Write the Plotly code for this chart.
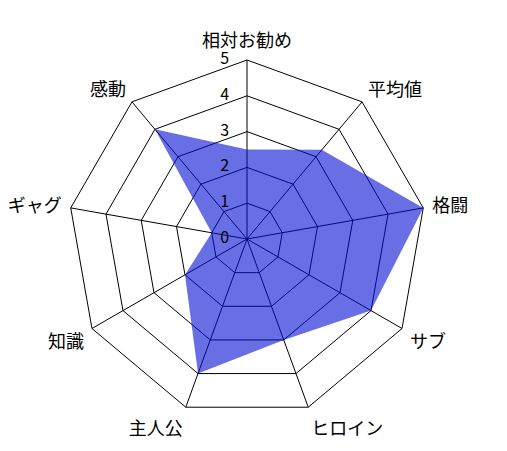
import plotly.graph_objects as go

categories = ["相対お勧め", "平均値", "格闘", "サブ", "ヒロイン", "主人公", "知識", "ギャグ", "感動"]
values = [2.5, 3.25, 5, 4, 3, 4, 2, 1, 4]
radial_ticks = [0, 1, 2, 3, 4, 5]
radial_tick_labels = ["0", "1", "2", "3", "4", "5"]

r_closed = values + values[:1]
theta_closed = categories + categories[:1]

fig = go.Figure()
fig.add_trace(go.Scatterpolar(
    r=r_closed,
    theta=theta_closed,
    fill="toself",
    fillcolor="rgba(3,13,210,0.6)",
    line=dict(width=0, color="rgba(0,0,0,0)"),
    mode="lines",
    hoverinfo="skip",
    showlegend=False,
))

# radial tick labels drawn above the fill, along the first spoke
pad = "\u00a0" * 5
fig.add_trace(go.Scatterpolar(
    r=[max(t, 1e-6) for t in radial_ticks],
    theta=[categories[0]] * len(radial_ticks),
    mode="text",
    text=[lbl + pad for lbl in radial_tick_labels],
    textposition="middle left",
    textfont=dict(family="Noto Sans CJK JP", size=16, color="black"),
    cliponaxis=False,
    hoverinfo="skip",
    showlegend=False,
))

fig.update_layout(
    width=507,
    height=451,
    margin=dict(l=60, r=89, t=52, b=41),
    paper_bgcolor="white",
    font=dict(family="Noto Sans CJK JP", size=18, color="black"),
    polar=dict(
        bgcolor="white",
        gridshape="linear",
        radialaxis=dict(
            range=[0, 5],
            tickvals=radial_ticks,
            showticklabels=False,
            angle=90,
            showline=False,
            gridcolor="black",
            gridwidth=1,
            ticks="",
            layer="below traces",
        ),
        angularaxis=dict(
            rotation=90,
            direction="clockwise",
            showline=True,
            linecolor="black",
            linewidth=1,
            gridcolor="black",
            gridwidth=1,
            ticks="outside",
            ticklen=5,
            tickcolor="rgba(0,0,0,0)",
            tickfont=dict(size=18, color="black"),
            layer="below traces",
        ),
    ),
)

fig.write_html("out.html")
